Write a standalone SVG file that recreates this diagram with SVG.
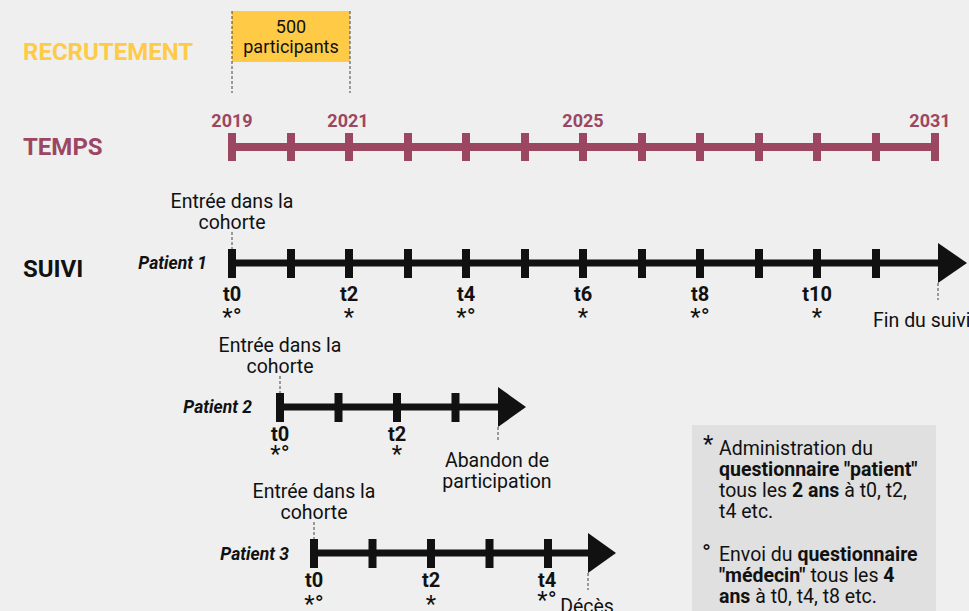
<svg xmlns="http://www.w3.org/2000/svg" width="969" height="611" viewBox="0 0 969 611">
<style>
text{font-family:Roboto,"Liberation Sans",sans-serif}
.lbl{font-size:19.5px;fill:#111;text-anchor:middle}
.box{font-size:18px;fill:#111;text-anchor:middle}
.tl{font-size:20px;font-weight:bold;fill:#111;text-anchor:middle}
.st{font-size:24px;fill:#111;text-anchor:middle}
.pat{font-size:17.5px;font-weight:bold;font-style:italic;fill:#111;text-anchor:end}
.yr{font-size:18px;font-weight:bold;fill:#9b4762;text-anchor:middle}
.head{font-size:24px;font-weight:bold}
.dash{stroke:#444;stroke-width:1;stroke-dasharray:3 2;fill:none}
.axis{stroke:#111;stroke-width:7}
.tick{fill:#111}
.ttick{fill:#9b4762}
.leg{font-size:19.5px;fill:#111}
.b{font-weight:bold}
</style>
<rect x="0" y="0" width="969" height="611" fill="#efefef"/>

<g id="recrutement">
<text class="head" x="23" y="60" fill="#ffcb47">RECRUTEMENT</text>
<rect x="232" y="11" width="118" height="51" fill="#ffcb47"/>
<text class="box" x="291" y="33">500</text>
<text class="box" x="291" y="53">participants</text>
<line class="dash" x1="232" y1="11" x2="232" y2="93"/>
<line class="dash" x1="350" y1="11" x2="350" y2="93"/>
</g>

<g id="temps">
<text class="head" x="23" y="155" fill="#9b4762">TEMPS</text>
<rect x="232" y="143" width="703" height="8" fill="#9b4762"/>
<g class="ttick">
<rect x="228" y="133" width="8" height="28"/><rect x="287" y="133" width="8" height="28"/><rect x="345" y="133" width="8" height="28"/><rect x="404" y="133" width="8" height="28"/><rect x="462" y="133" width="8" height="28"/><rect x="521" y="133" width="8" height="28"/><rect x="579" y="133" width="8" height="28"/><rect x="638" y="133" width="8" height="28"/><rect x="696" y="133" width="8" height="28"/><rect x="755" y="133" width="8" height="28"/><rect x="813" y="133" width="8" height="28"/><rect x="872" y="133" width="8" height="28"/><rect x="931" y="133" width="8" height="28"/>
</g>
<text class="yr" x="232" y="127">2019</text>
<text class="yr" x="348" y="127">2021</text>
<text class="yr" x="583" y="127">2025</text>
<text class="yr" x="930" y="127">2031</text>
</g>

<text x="23" y="277" font-size="24" font-weight="bold" fill="#111">SUIVI</text>

<g id="patient1">
<text class="pat" x="207" y="269">Patient 1</text>
<text class="lbl" x="232" y="208">Entrée dans la</text>
<text class="lbl" x="232" y="229">cohorte</text>
<line class="dash" x1="232" y1="232" x2="232" y2="249"/>
<line class="axis" x1="232" y1="263" x2="940" y2="263"/>
<g class="tick">
<rect x="228" y="249" width="8" height="29"/><rect x="287" y="249" width="8" height="29"/><rect x="345" y="249" width="8" height="29"/><rect x="404" y="249" width="8" height="29"/><rect x="462" y="249" width="8" height="29"/><rect x="521" y="249" width="8" height="29"/><rect x="579" y="249" width="8" height="29"/><rect x="638" y="249" width="8" height="29"/><rect x="696" y="249" width="8" height="29"/><rect x="755" y="249" width="8" height="29"/><rect x="813" y="249" width="8" height="29"/><rect x="872" y="249" width="8" height="29"/>
</g>
<polygon points="938,243 967,263 938,283" fill="#111"/>
<line class="dash" x1="938" y1="283" x2="938" y2="300"/>
<text class="leg" x="873" y="327">Fin du suivi</text>
<text class="tl" x="232" y="301">t0</text><text class="st" x="232" y="325">*°</text>
<text class="tl" x="349" y="301">t2</text><text class="st" x="349" y="325">*</text>
<text class="tl" x="466" y="301">t4</text><text class="st" x="466" y="325">*°</text>
<text class="tl" x="583" y="301">t6</text><text class="st" x="583" y="325">*</text>
<text class="tl" x="700" y="301">t8</text><text class="st" x="700" y="325">*°</text>
<text class="tl" x="817" y="301">t10</text><text class="st" x="817" y="325">*</text>
</g>

<g id="patient2">
<text class="pat" x="252" y="413">Patient 2</text>
<text class="lbl" x="280" y="352">Entrée dans la</text>
<text class="lbl" x="280" y="373">cohorte</text>
<line class="dash" x1="280" y1="376" x2="280" y2="393"/>
<line class="axis" x1="280" y1="407" x2="500" y2="407"/>
<g class="tick">
<rect x="276" y="393" width="8" height="29"/><rect x="334.5" y="393" width="8" height="29"/><rect x="393" y="393" width="8" height="29"/><rect x="451.5" y="393" width="8" height="29"/>
</g>
<polygon points="498,387 526,407 498,427" fill="#111"/>
<line class="dash" x1="498" y1="427" x2="498" y2="441"/>
<text class="lbl" x="497" y="467">Abandon de</text>
<text class="lbl" x="497" y="488">participation</text>
<text class="tl" x="280" y="441">t0</text><text class="st" x="280" y="462">*°</text>
<text class="tl" x="397" y="441">t2</text><text class="st" x="397" y="462">*</text>
</g>

<g id="patient3">
<text class="pat" x="289" y="560">Patient 3</text>
<text class="lbl" x="314" y="498">Entrée dans la</text>
<text class="lbl" x="314" y="519">cohorte</text>
<line class="dash" x1="314" y1="522" x2="314" y2="539"/>
<line class="axis" x1="314" y1="553" x2="590" y2="553"/>
<g class="tick">
<rect x="310" y="539" width="8" height="29"/><rect x="368.5" y="539" width="8" height="29"/><rect x="427" y="539" width="8" height="29"/><rect x="485.5" y="539" width="8" height="29"/><rect x="544" y="539" width="8" height="29"/>
</g>
<polygon points="588,533 616,553 588,573" fill="#111"/>
<line class="dash" x1="588" y1="573" x2="588" y2="590"/>
<text class="lbl" x="587" y="613">Décès</text>
<text class="tl" x="314" y="587">t0</text><text class="st" x="314" y="612">*°</text>
<text class="tl" x="431" y="587">t2</text><text class="st" x="431" y="612">*</text>
<text class="tl" x="547" y="587">t4</text><text class="st" x="547" y="608">*°</text>
</g>

<g id="legende">
<rect x="692" y="425" width="244" height="190" fill="#e0e0e0"/>
<text class="st" x="703" y="452" style="text-anchor:start">*</text>
<text class="leg" x="719" y="455">Administration du</text>
<text class="leg b" x="719" y="476">questionnaire "patient"</text>
<text class="leg" x="719" y="497">tous les <tspan class="b">2 ans</tspan> à t0, t2,</text>
<text class="leg" x="719" y="518">t4 etc.</text>
<text class="st" x="702" y="561" style="text-anchor:start">°</text>
<text class="leg" x="719" y="561">Envoi du <tspan class="b">questionnaire</tspan></text>
<text class="leg" x="719" y="582"><tspan class="b">"médecin"</tspan> tous les <tspan class="b">4</tspan></text>
<text class="leg" x="719" y="603"><tspan class="b">ans</tspan> à t0, t4, t8 etc.</text>
</g>
</svg>
